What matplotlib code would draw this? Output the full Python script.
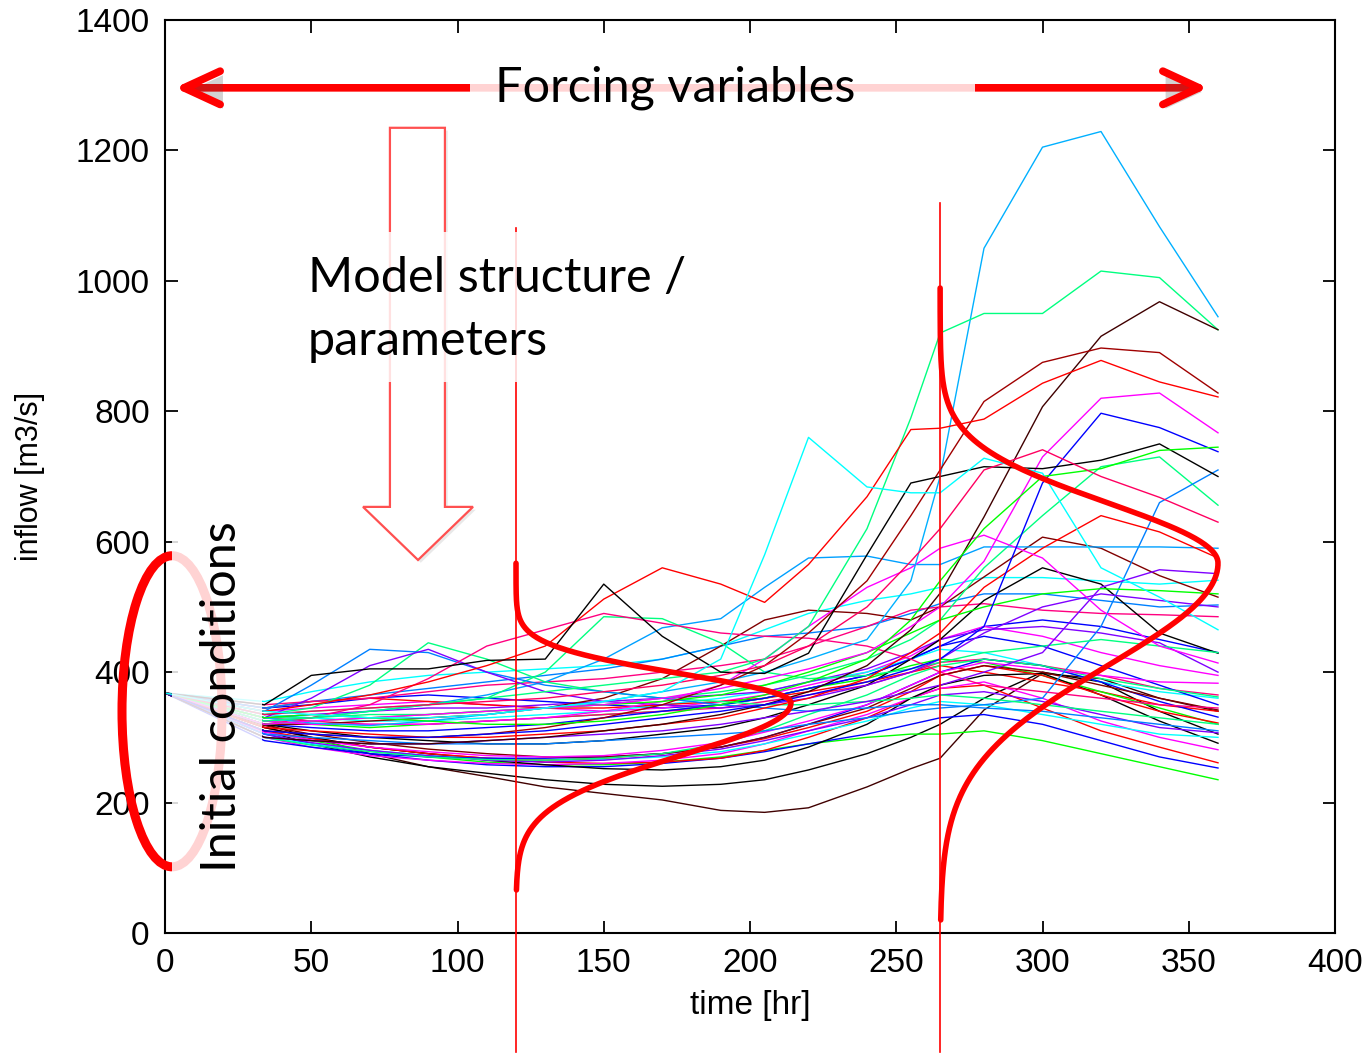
import matplotlib
matplotlib.use('Agg')
import numpy as np
import matplotlib.pyplot as plt
from matplotlib.patches import Ellipse, Polygon, Rectangle, FancyArrowPatch
import matplotlib.patheffects as pe

# ---------------- data ----------------
time_hr = [34, 50, 70, 90, 110, 130, 150, 170, 190, 205, 220, 240, 255, 265, 280, 300, 320, 340, 360]
initial_time = 0
initial_flow = 368

runs_high = [
    [330, 322, 318, 325, 335, 345, 355, 370, 385, 400, 420, 450, 540, 700, 1050, 1205, 1229, 1083, 945],
    [325, 330, 340, 350, 360, 370, 380, 390, 400, 420, 470, 620, 790, 920, 950, 950, 1015, 1005, 925],
    [300, 295, 290, 290, 295, 300, 310, 320, 335, 350, 370, 410, 465, 521, 638, 807, 915, 968, 925],
    [310, 305, 300, 300, 305, 315, 330, 350, 380, 410, 460, 540, 640, 710, 815, 875, 897, 890, 828],
    [340, 350, 365, 385, 410, 440, 512, 560, 535, 507, 565, 669, 772, 774, 788, 843, 878, 845, 822],
    [320, 325, 330, 335, 340, 345, 350, 360, 375, 390, 405, 430, 470, 500, 570, 730, 820, 828, 767],
    [310, 305, 300, 300, 305, 310, 320, 330, 340, 350, 365, 385, 405, 420, 470, 690, 797, 775, 738],
    [350, 395, 405, 405, 418, 420, 535, 455, 400, 398, 429, 580, 690, 700, 715, 712, 725, 750, 700],
    [330, 335, 330, 325, 320, 320, 325, 335, 350, 365, 385, 420, 480, 540, 620, 700, 712, 740, 745],
    [335, 340, 345, 350, 355, 360, 370, 380, 395, 410, 440, 500, 570, 620, 710, 741, 700, 668, 630],
    [340, 335, 330, 330, 335, 345, 355, 370, 420, 580, 760, 684, 675, 675, 728, 705, 560, 515, 465],
]
colors_high = ['#00b0ff', '#00ff80', '#400000', '#a00000', '#ff0000', '#ff00ff',
               '#0000ff', '#000000', '#00ff00', '#ff0060', '#00ffff']

runs_upper = [
    [320, 310, 300, 295, 290, 290, 295, 305, 315, 330, 350, 380, 420, 450, 510, 560, 535, 460, 429],
    [320, 320, 325, 330, 335, 345, 360, 390, 440, 480, 495, 490, 480, 500, 546, 607, 590, 548, 515],
    [330, 330, 335, 335, 340, 345, 350, 360, 370, 380, 395, 420, 450, 480, 560, 640, 715, 730, 656],
    [305, 300, 295, 290, 290, 290, 295, 300, 305, 310, 320, 330, 340, 345, 350, 360, 470, 660, 710],
    [325, 330, 340, 350, 365, 385, 420, 468, 482, 530, 575, 578, 565, 565, 592, 592, 592, 592, 590],
    [335, 340, 345, 350, 360, 400, 485, 482, 445, 400, 390, 395, 405, 415, 430, 440, 450, 440, 430],
    [335, 345, 380, 445, 420, 385, 370, 360, 355, 350, 350, 355, 360, 365, 360, 350, 340, 330, 320],
    [340, 380, 435, 430, 400, 380, 370, 360, 350, 345, 340, 345, 350, 350, 345, 340, 330, 320, 310],
    [330, 360, 410, 435, 400, 370, 355, 350, 345, 350, 360, 380, 400, 420, 460, 500, 520, 510, 500],
    [320, 330, 350, 390, 440, 465, 490, 475, 460, 455, 452, 440, 420, 400, 380, 370, 360, 350, 345],
    [315, 310, 305, 300, 300, 305, 310, 320, 330, 345, 360, 390, 430, 460, 530, 590, 640, 615, 575],
    [325, 320, 320, 320, 325, 330, 340, 355, 380, 420, 470, 530, 560, 590, 610, 575, 495, 440, 414],
    [300, 295, 290, 290, 295, 300, 305, 310, 320, 330, 340, 355, 370, 380, 400, 430, 530, 557, 551],
    [320, 325, 330, 335, 340, 345, 350, 355, 365, 380, 400, 430, 460, 480, 500, 520, 528, 525, 520],
]
colors_upper = ['#000000', '#800000', '#00ff80', '#0080ff', '#00a0ff', '#00ff80', '#00ff80',
                '#0080ff', '#8000ff', '#ff0080', '#ff0000', '#ff00ff', '#8000ff', '#00ff00']

runs_lower = [
    [320, 300, 275, 255, 240, 224, 214, 204, 188, 185, 192, 224, 252, 268, 342, 398, 390, 360, 340],
    [310, 290, 270, 255, 245, 235, 228, 225, 228, 235, 250, 275, 300, 320, 360, 400, 385, 340, 305],
    [345, 350, 360, 365, 360, 355, 350, 345, 350, 360, 375, 395, 420, 440, 470, 480, 470, 450, 430],
    [340, 345, 350, 355, 350, 345, 340, 345, 355, 365, 380, 400, 425, 450, 470, 455, 430, 410, 395],
    [335, 330, 325, 325, 330, 335, 340, 350, 360, 370, 385, 400, 420, 435, 430, 410, 385, 370, 360],
    [345, 355, 360, 355, 350, 345, 345, 350, 355, 360, 370, 385, 400, 410, 400, 385, 370, 350, 340],
    [330, 335, 340, 345, 345, 350, 355, 360, 365, 370, 385, 405, 430, 450, 465, 470, 460, 445, 400],
    [325, 320, 315, 320, 325, 330, 335, 340, 350, 360, 375, 390, 410, 420, 415, 395, 370, 345, 320],
    [330, 325, 320, 320, 325, 330, 335, 340, 345, 355, 365, 380, 400, 415, 420, 410, 395, 375, 365],
    [320, 315, 310, 310, 315, 320, 330, 340, 350, 360, 375, 395, 420, 440, 455, 440, 410, 380, 350],
    [310, 295, 280, 270, 262, 258, 258, 262, 270, 280, 290, 300, 305, 305, 310, 295, 275, 255, 235],
    [305, 290, 275, 265, 258, 255, 255, 260, 268, 278, 290, 305, 320, 330, 335, 320, 295, 270, 253],
    [315, 300, 285, 275, 268, 262, 260, 262, 268, 280, 300, 330, 360, 375, 380, 345, 310, 285, 261],
    [300, 285, 272, 265, 260, 258, 260, 265, 275, 290, 310, 335, 360, 375, 385, 360, 325, 300, 281],
    [315, 300, 285, 275, 265, 258, 252, 250, 255, 265, 285, 320, 360, 380, 395, 398, 365, 325, 291],
    [300, 290, 280, 272, 268, 265, 266, 270, 278, 290, 305, 325, 345, 355, 350, 335, 320, 305, 300],
    [305, 292, 280, 272, 265, 262, 265, 272, 282, 295, 310, 330, 350, 365, 370, 355, 335, 315, 307],
    [310, 298, 285, 275, 268, 265, 268, 275, 285, 298, 315, 340, 370, 395, 410, 395, 365, 340, 322],
    [295, 285, 275, 270, 268, 268, 270, 275, 285, 300, 320, 350, 380, 400, 420, 410, 385, 355, 331],
    [318, 305, 292, 282, 275, 270, 270, 275, 285, 300, 320, 345, 375, 395, 410, 400, 380, 360, 342],
    [300, 288, 278, 270, 266, 265, 268, 275, 290, 310, 335, 365, 395, 410, 420, 410, 390, 375, 362],
    [308, 296, 285, 278, 272, 270, 272, 280, 292, 308, 325, 350, 380, 400, 415, 405, 395, 385, 383],
]
colors_lower = ['#400000', '#000000', '#0000ff', '#ff00ff', '#00ffff', '#ff0000', '#8000ff',
                '#00ff00', '#ff0080', '#0000ff', '#00ff00', '#0000ff', '#ff0000', '#ff00ff',
                '#000000', '#00ffff', '#8000ff', '#ff0000', '#0000ff', '#800000', '#00ff80', '#ff00ff']

runs_mid = [
    [355, 370, 385, 395, 400, 405, 410, 420, 440, 465, 490, 510, 520, 530, 545, 545, 540, 535, 541],
    [345, 355, 365, 375, 385, 395, 405, 420, 440, 455, 460, 470, 490, 505, 520, 520, 510, 500, 503],
    [350, 355, 360, 370, 380, 385, 390, 400, 410, 420, 440, 470, 495, 500, 505, 495, 490, 488, 485],
]
colors_mid = ['#00ffff', '#0080ff', '#ff0080']

# forecast-time cuts and the two sketched distributions (mode, spreads, width in hours, flow range)
cut_times = [120, 265]
dist_modes = [353, 567]
dist_sigma_up = [44, 92]
dist_sigma_down = [80, 156]
dist_width_hr = [94, 95]
dist_low = [66, 20]
dist_high = [567, 989]

# ---------------- figure ----------------
fig = plt.figure(figsize=(13.67, 10.55), dpi=100)
ax = fig.add_axes([165 / 1367, 1 - 933 / 1055, 1170 / 1367, 913 / 1055])
ax.set_xlim(0, 400)
ax.set_ylim(0, 1400)
ax.set_xticks(np.arange(0, 401, 50))
ax.set_yticks(np.arange(0, 1401, 200))
tick_font = ['Liberation Sans', 'DejaVu Sans']
ax.tick_params(direction='in', length=9, width=1.3, top=True, right=True, labelsize=24, pad=11)
for lab in ax.get_xticklabels() + ax.get_yticklabels():
    lab.set_family(tick_font)
for s in ax.spines.values():
    s.set_linewidth(1.5)
ax.set_xlabel('time [hr]', fontsize=24, family=tick_font, labelpad=8)
ax.set_ylabel('inflow [m3/s]', fontsize=22, family=tick_font, labelpad=22)

for runs, cols in [(runs_lower, colors_lower), (runs_mid, colors_mid),
                   (runs_upper, colors_upper), (runs_high, colors_high)]:
    for vals, c in zip(runs, cols):
        ax.plot([initial_time] + time_hr, [initial_flow] + vals, color=c, lw=1.0, zorder=2)

# vertical cut lines (extending below the axes)
for t, top in zip(cut_times, [1081, 1120]):
    ax.plot([t, t], [top, -183], color='red', lw=1.2, clip_on=False, zorder=4)

# distributions at the cut times
for t, m, su, sd, w, lo, hi in zip(cut_times, dist_modes, dist_sigma_up, dist_sigma_down,
                                   dist_width_hr, dist_low, dist_high):
    yy = np.linspace(lo, hi, 400)
    sig = np.where(yy > m, su, sd)
    xx = t + w * np.exp(-0.5 * ((yy - m) / sig) ** 2)
    ax.plot(xx, yy, color='red', lw=4.0, solid_capstyle='round', zorder=4)

# initial-conditions ellipse
ax.add_patch(Ellipse((2.4, 340), 34.2, 477, fill=False, edgecolor='red', lw=6.5,
                     clip_on=False, zorder=4))

# forcing double arrow
arr = FancyArrowPatch((3.4, 1296), (356.6, 1296),
                      arrowstyle='<->,head_length=26,head_width=12',
                      mutation_scale=1, color='red', lw=5.5, capstyle='round',
                      joinstyle='round', shrinkA=0, shrinkB=0, zorder=4)
arr.set_path_effects([pe.SimplePatchShadow(offset=(2, -3), alpha=0.25), pe.Normal()])
ax.add_patch(arr)

# hollow down arrow (model structure / parameters)
hollow = Polygon([(76.9, 1234.7), (95.7, 1234.7), (95.7, 653.4), (105.3, 653.4),
                  (86.5, 572), (67.7, 653.4), (76.9, 653.4)], closed=True,
                 facecolor='white', edgecolor='#ff5050', lw=1.6, zorder=4)
hollow.set_path_effects([pe.SimplePatchShadow(offset=(2, -2), alpha=0.12), pe.Normal()])
ax.add_patch(hollow)

# semi-transparent text boxes
for (x0, y0, w, h) in [(104.3, 1280, 172.6, 32), (46.2, 845, 133.3, 230), (2.4, 89, 30.8, 552)]:
    ax.add_patch(Rectangle((x0, y0), w, h, facecolor='white', edgecolor='none',
                           alpha=0.83, clip_on=False, zorder=5))

txt_font = ['Lato', 'DejaVu Sans']
ax.text(112.8, 1274.5, 'Forcing variables', fontsize=35, family=txt_font,
        ha='left', va='baseline', zorder=6)
ax.text(48.9, 983, 'Model structure /', fontsize=35, family=txt_font,
        ha='left', va='baseline', zorder=6)
ax.text(48.9, 886.6, 'parameters', fontsize=35, family=txt_font,
        ha='left', va='baseline', zorder=6)
ax.text(24.3, 93.6, 'Initial conditions', fontsize=35, family=txt_font, rotation=90,
        rotation_mode='anchor', ha='left', va='baseline', zorder=6)

fig.savefig('out.png', dpi=100)
